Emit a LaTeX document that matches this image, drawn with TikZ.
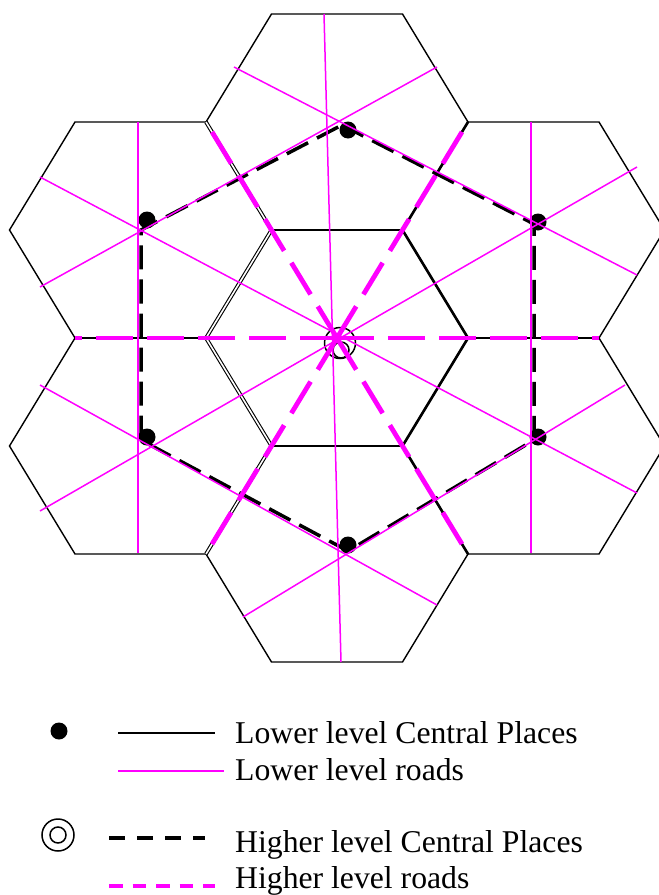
\documentclass[tikz,border=0pt]{standalone}
\usepackage{fontspec}
\setmainfont{Liberation Serif}
\usetikzlibrary{positioning, calc}
\definecolor{roadmag}{RGB}{255,0,255}

\begin{document}
\begin{tikzpicture}[x=1bp, y=-1bp,
	hexline/.style={line width=1.4bp},
	thickedge/.style={line width=2.6bp},
	midedge/.style={line width=2bp},
	doubleedge/.style={double, double distance=1.6bp, line width=1.1bp},
	lowroad/.style={roadmag, line width=1.5bp},
	highroad/.style={roadmag, line width=4.8bp, dash pattern=on 37bp off 14bp},
	highmarket/.style={line width=3.5bp, dash pattern=on 24bp off 10bp},
	lowplace/.style={circle, fill, inner sep=0pt, minimum size=17bp},
	ring/.style={circle, draw, line width=1.5bp, inner sep=0pt},
	legend/.style={anchor=base west, inner sep=0pt, font=\fontsize{31.7bp}{37bp}\selectfont}]
	
	\path[use as bounding box, clip] (0,0) rectangle (659,895);
	
	% Hexagonos (areas de mercado)
	\foreach \cx/\cy in {337/338, 337/122, 337/554, 140.5/230, 533.5/230, 140.5/446, 533.5/446}
		\draw[hexline, shift={(\cx,\cy)}] (-131,0) -- (-65.5,-108) -- (65.5,-108) -- (131,0)
			-- (65.5,108) -- (-65.5,108) -- cycle;
	
	% Vertices del hexagono central y extremos de las carreteras principales
	\coordinate (hp_c) at (337,338);
	\coordinate (v_l) at (206,338);
	\coordinate (v_ul) at (271.5,230);
	\coordinate (v_ur) at (402.5,230);
	\coordinate (v_r) at (468,338);
	\coordinate (v_lr) at (402.5,446);
	\coordinate (v_ll) at (271.5,446);
	\coordinate (end_w) at (75,338);
	\coordinate (end_e) at (599,338);
	\coordinate (end_nw) at (206,122);
	\coordinate (end_ne) at (468,122);
	\coordinate (end_sw) at (206,554);
	\coordinate (end_se) at (468,554);
	
	\draw[doubleedge] (end_nw) -- (v_ul) -- (v_l) -- (v_ll) -- (end_sw);
	\draw[thickedge] (end_ne) -- (v_ur) -- (v_r) -- (v_lr) -- (end_se);
	\draw[midedge] (v_ul) -- (v_ur);
	\draw[midedge] (v_ll) -- (v_lr);
	\draw[midedge] (end_w) -- (v_l);
	\draw[midedge] (v_r) -- (end_e);
	
	% Area de mercado del lugar central de nivel superior
	\coordinate (k_top) at (342,125);
	\coordinate (k_ur) at (534,224);
	\coordinate (k_lr) at (534,440);
	\coordinate (k_bot) at (348,551);
	\coordinate (k_ll) at (141,440);
	\coordinate (k_ul) at (141,230);
	\draw[highmarket] (k_top) -- (k_ur) -- (k_lr) -- (k_bot) -- (k_ll) -- (k_ul) -- cycle;
	
	% Lugares centrales
	\node[lowplace] (lp_top) at (348,130) {};
	\node[lowplace] (lp_ul) at (147,220) {};
	\node[lowplace] (lp_ur) at (538,222) {};
	\node[lowplace] (lp_ll) at (147,437) {};
	\node[lowplace] (lp_lr) at (538,437) {};
	\node[lowplace] (lp_bot) at (348,545) {};
	\node[ring, minimum size=31bp] (hp_out) at (340,343) {};
	\node[ring, minimum size=16bp] (hp_in) at (341,350) {};
	
	% Carreteras de nivel inferior
	\coordinate (r1a) at (324,14);   \coordinate (r1b) at (341,662);
	\coordinate (r2a) at (40,177);   \coordinate (r2b) at (637,493);
	\coordinate (r3a) at (637,167);  \coordinate (r3b) at (40,511);
	\coordinate (r4a) at (437,67);   \coordinate (r4b) at (40,287);
	\coordinate (r5a) at (234,67);   \coordinate (r5b) at (637,275);
	\coordinate (r6a) at (40,385);   \coordinate (r6b) at (437,605);
	\coordinate (r7a) at (243,617);  \coordinate (r7b) at (625,385);
	\coordinate (r8a) at (138,122);  \coordinate (r8b) at (138,553);
	\coordinate (r9a) at (531,122);  \coordinate (r9b) at (531,553);
	\foreach \r in {1,...,9}
		\draw[lowroad] (r\r a) -- (r\r b);
	
	% Carreteras de nivel superior
	\foreach \e in {end_w, end_e, end_nw, end_ne, end_sw, end_se}
		\draw[highroad] (hp_c) -- (\e);
	
	% Leyenda
	\node[lowplace] (key_lp) at (59,731) {};
	\coordinate (key_l1a) at (118,733);
	\coordinate (key_l1b) at (215,733);
	\draw[line width=2bp] (key_l1a) -- (key_l1b);
	\coordinate (key_l2a) at (118,771);
	\coordinate (key_l2b) at (224,771);
	\draw[lowroad, line width=2bp] (key_l2a) -- (key_l2b);
	\node[legend] (txt_lcp) at (235,743) {Lower level Central Places};
	\node[legend] (txt_lr) at (235,780) {Lower level roads};
	
	\node[ring, minimum size=32bp] (key_hp) at (58,835) {};
	\node[ring, minimum size=16bp] (key_hp_in) at (key_hp) {};
	\coordinate (key_l3a) at (109,838);
	\coordinate (key_l3b) at (205,838);
	\draw[line width=4bp, dash pattern=on 16bp off 12bp] (key_l3a) -- (key_l3b);
	\coordinate (key_l4a) at (109,886);
	\coordinate (key_l4b) at (215,886);
	\draw[roadmag, line width=3.5bp, dash pattern=on 13.5bp off 10bp] (key_l4a) -- (key_l4b);
	\node[legend] (txt_hcp) at (235,852) {Higher level Central Places};
	\node[legend] (txt_hr) at (235,888) {Higher level roads};
\end{tikzpicture}
\end{document}
